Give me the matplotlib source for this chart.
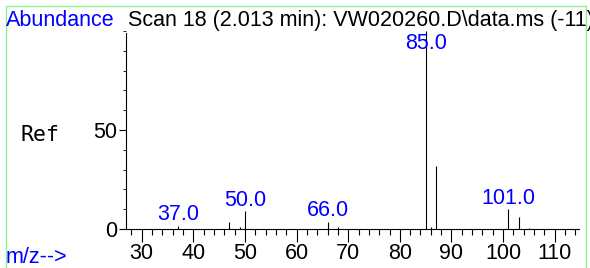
import matplotlib
matplotlib.use("Agg")
import matplotlib.pyplot as plt
from matplotlib.patches import Rectangle
from matplotlib.ticker import MultipleLocator

# ---- data ----
mz = [37, 47, 49, 50, 66, 68, 85, 86, 87, 101, 103, 105]
abundance = [1.7, 3.7, 0.8, 9.0, 3.7, 0.8, 100.0, 1.0, 32.0, 10.0, 6.0, 0.7]
labeled_peaks = [37, 50, 66, 85, 101]
title = "Scan 18 (2.013 min): VW020260.D\\data.ms (-11)"
x_major_ticks = [30, 40, 50, 60, 70, 80, 90, 100, 110]
y_major_ticks = [0, 50]

W, H = 590, 268
DPI = 100
plt.rcParams['font.family'] = ['Liberation Sans', 'DejaVu Sans']
fig = plt.figure(figsize=(W / DPI, H / DPI), dpi=DPI)

def px(x0, y0, x1, y1):
    return [x0 / W, 1 - y1 / H, (x1 - x0) / W, (y1 - y0) / H]

ax = fig.add_axes(px(126, 31, 579, 229))
ax.set_xlim(26.96, 114.7)
ax.set_ylim(0, 100)
ax.vlines(mz, 0, abundance, colors='black', linewidth=0.8)

for spine in ['top', 'right']:
    ax.spines[spine].set_visible(False)
ax.spines['left'].set_bounds(0, 99)
for spine in ['left', 'bottom']:
    ax.spines[spine].set_linewidth(0.8)

ax.set_xticks(x_major_ticks)
ax.xaxis.set_minor_locator(MultipleLocator(2))
ax.set_yticks(y_major_ticks)
ax.yaxis.set_minor_locator(MultipleLocator(10))
ax.tick_params(axis='x', which='major', direction='out', length=9, width=0.8,
               labelsize=15.5, pad=1)
ax.tick_params(axis='x', which='minor', direction='out', length=4, width=0.8)
ax.tick_params(axis='y', which='major', direction='out', length=5, width=0.8,
               labelsize=15.5, pad=1)
ax.tick_params(axis='y', which='minor', direction='out', length=2, width=0.6)

fs = 15.5
for m, a in zip(mz, abundance):
    if m in labeled_peaks:
        ax.annotate(f"{m:.1f}", xy=(m, min(a, 88)), xytext=(0, 4),
                    textcoords='offset points', ha='center', va='baseline',
                    color='#0000ff', fontsize=fs)

fig.text(6 / W, 1 - 26 / H, "Abundance", color='#0000ff', fontsize=fs,
         ha='left', va='baseline')
fig.text(128 / W, 1 - 26 / H, title, color='black', fontsize=fs,
         ha='left', va='baseline')
fig.text(20 / W, 1 - 135 / H, "Ref", color='black', fontsize=fs,
         family='DejaVu Sans Mono', ha='left', va='center')
fig.text(6 / W, 1 - 263 / H, "m/z-->", color='#0000ff', fontsize=fs,
         ha='left', va='baseline')

fig.patches.append(Rectangle((5.5 / W, -0.2), (586 - 5.5) / W, 1.2 - 5.5 / H,
                             transform=fig.transFigure, fill=False,
                             edgecolor='#90ee90', linewidth=1.0))

fig.savefig("out.png", dpi=DPI)
